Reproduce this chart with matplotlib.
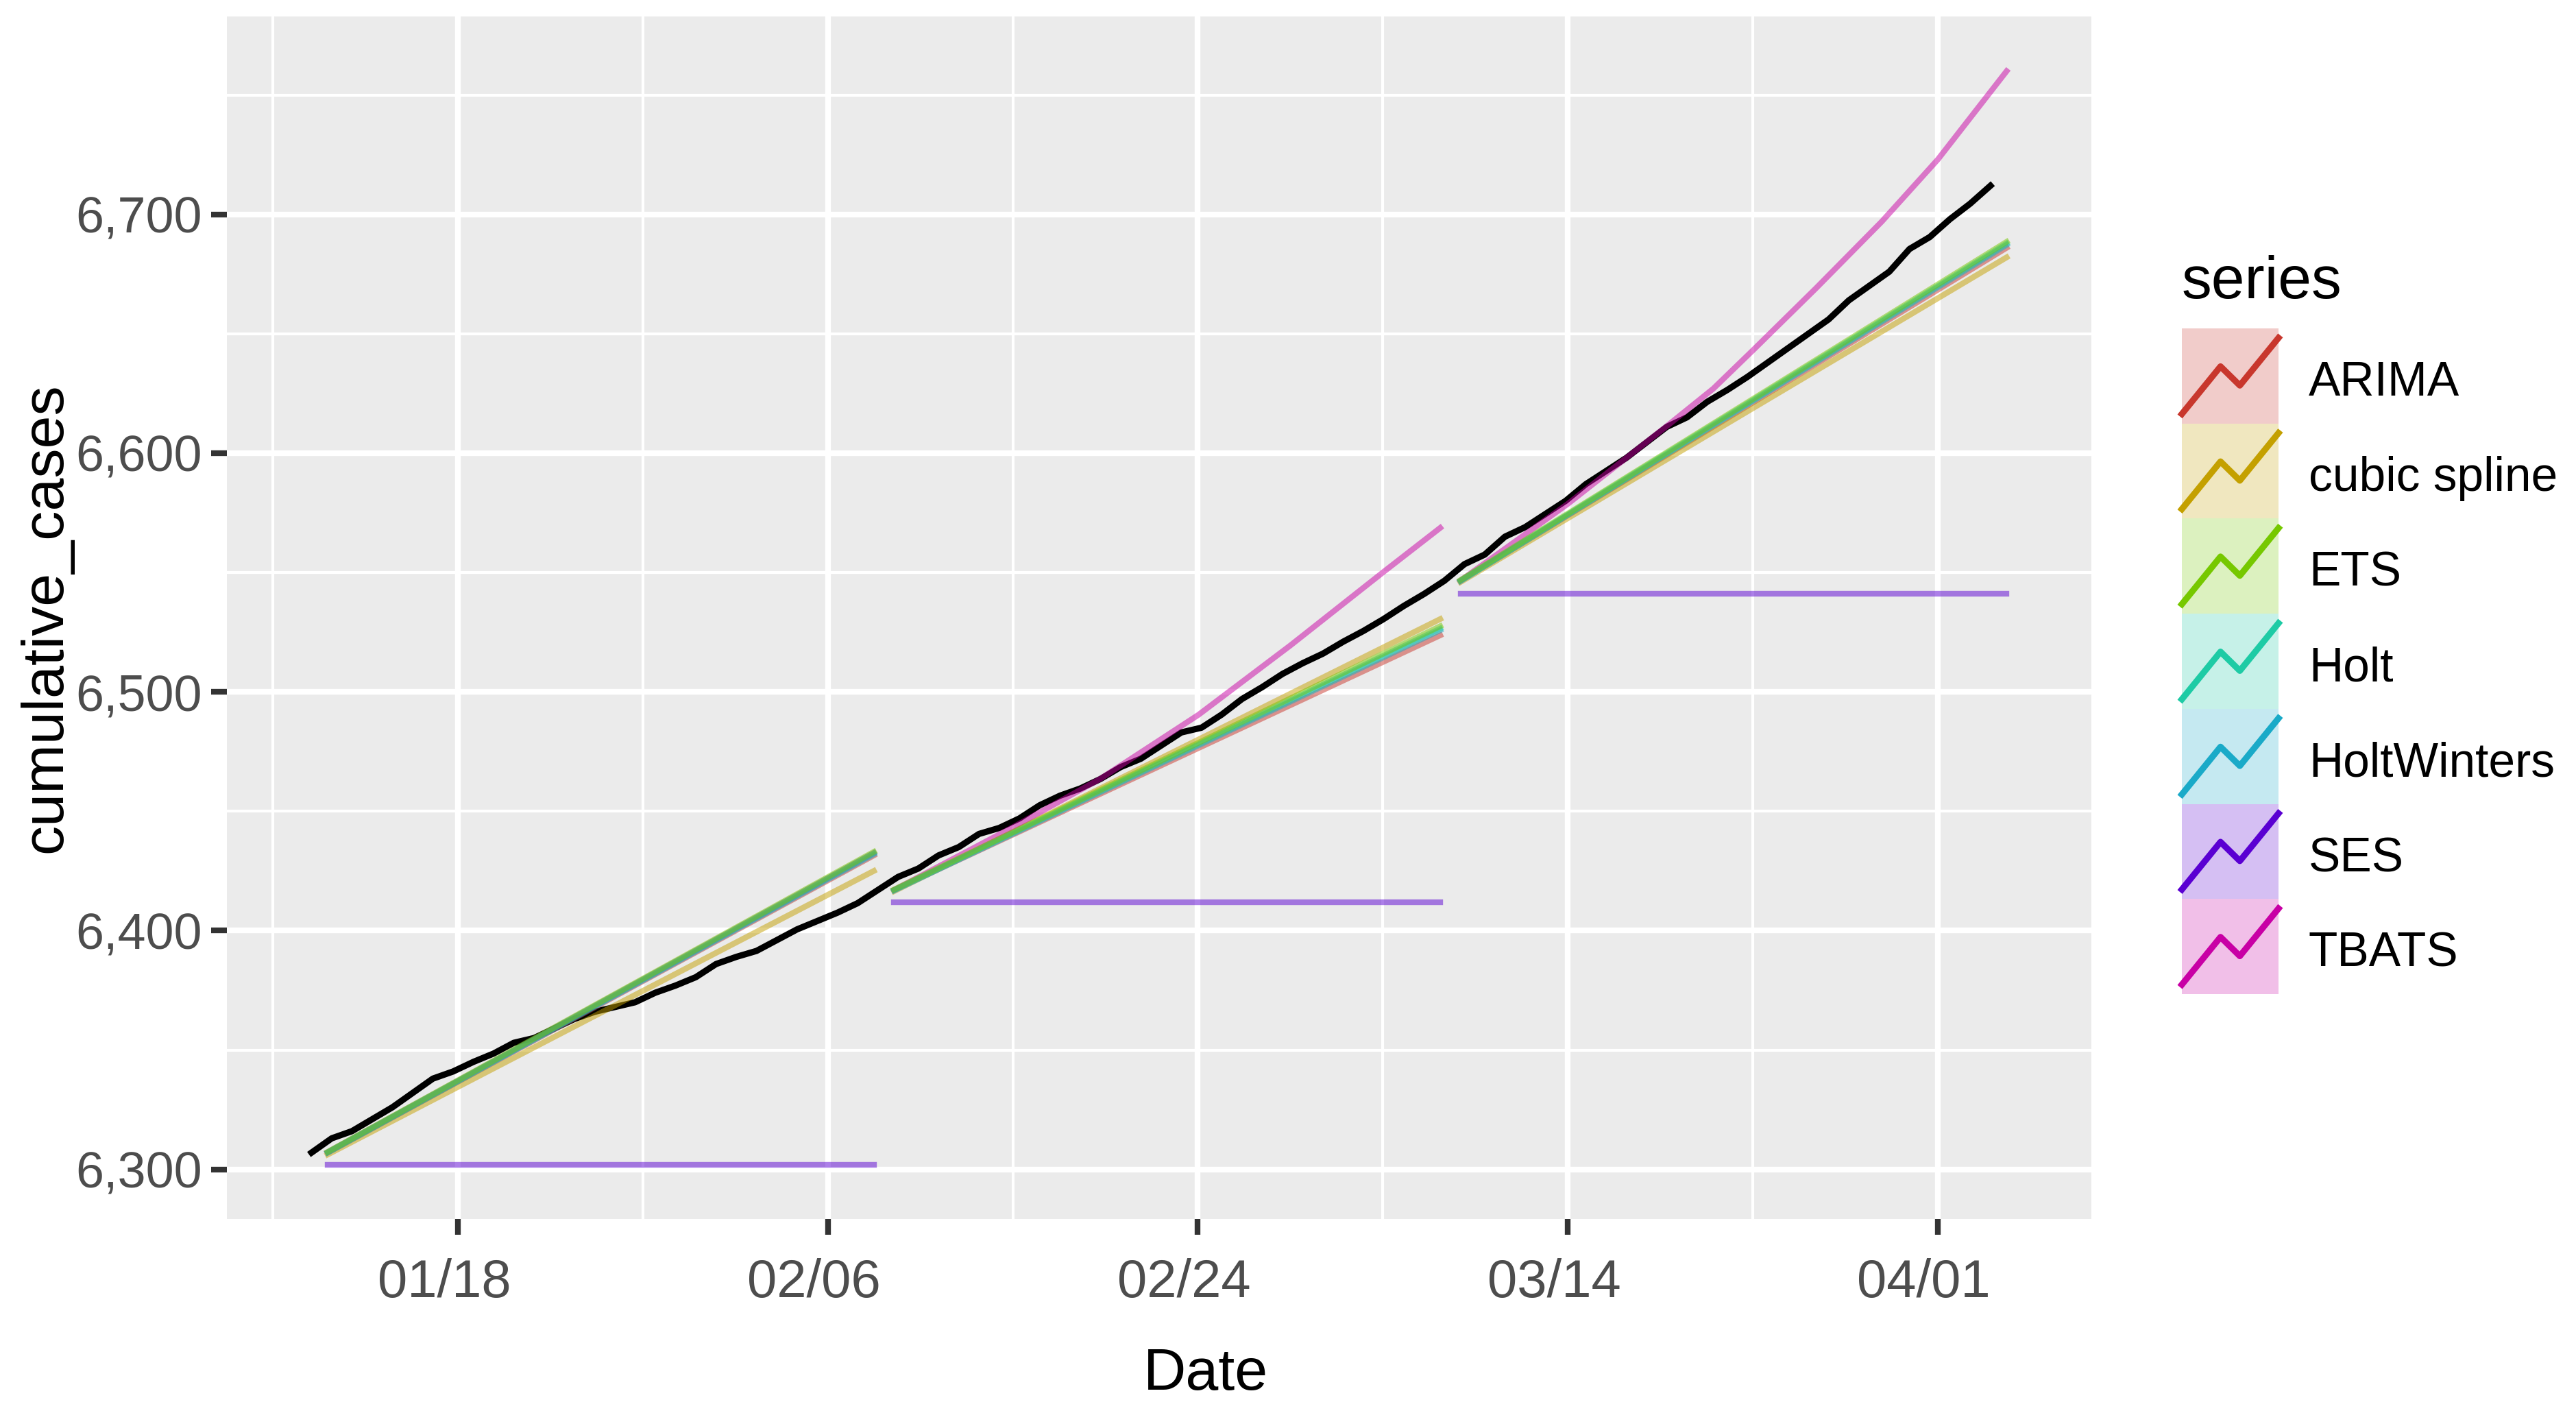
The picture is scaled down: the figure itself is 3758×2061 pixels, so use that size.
import numpy as np
import matplotlib
matplotlib.use("Agg")
import matplotlib.pyplot as plt
from matplotlib.patches import Rectangle
from matplotlib.transforms import ScaledTranslation

plt.rcParams['font.family'] = ['Liberation Sans', 'DejaVu Sans']

# observed cumulative cases, one value per day (day 0 = first observation)
actual = [6307, 6313, 6316, 6321, 6326, 6332, 6338, 6341, 6345, 6348.5,
          6353, 6355, 6359, 6363, 6366, 6368, 6370, 6374, 6377, 6380.5,
          6386, 6389, 6391.5, 6396, 6400.5, 6404, 6407.5, 6411.5, 6417, 6422.5,
          6426, 6431.5, 6435, 6440.5, 6443, 6447, 6452.5, 6456.5, 6459.5, 6463.5,
          6468.5, 6472, 6477.5, 6483, 6485, 6490.5, 6497, 6502, 6507.5, 6512,
          6516, 6521, 6525.5, 6530.5, 6536, 6541, 6546.5, 6553.5, 6557.5, 6565,
          6569, 6574.5, 6580, 6587, 6592.5, 6598, 6604.5, 6611, 6615, 6621.5,
          6626.5, 6632, 6638, 6644, 6650, 6656, 6664, 6670, 6676, 6685.5,
          6690.5, 6698, 6704.5, 6712]

# three forecast windows (day positions of first and last forecast)
window_start = [0.8, 28.8, 56.8]
window_end = [27.8, 55.8, 83.8]

# forecast values at window start / end for the linear models
arima = [[6307.0, 6431.5], [6417.0, 6523.7], [6546.5, 6686.0]]
cubic_spline = [[6306.2, 6425.0], [6416.5, 6530.5], [6546.0, 6682.0]]
ets = [[6307.3, 6433.0], [6417.2, 6527.5], [6546.8, 6688.5]]
holt = [[6307.2, 6432.5], [6417.0, 6526.5], [6546.6, 6687.8]]
holtwinters = [[6307.0, 6432.0], [6416.8, 6525.8], [6546.4, 6687.2]]
ses = [[6302.0, 6302.0], [6412.0, 6412.0], [6541.2, 6541.2]]

# TBATS bends upward, so keep more points
tbats_days = [[0.8, 27.8],
              [28.8, 34.7, 39.0, 43.85, 48.4, 52.96, 55.8],
              [56.8, 62.1, 67.0, 69.3, 71.25, 74.37, 77.63, 80.4, 83.8]]
tbats = [[6307.2, 6432.5],
         [6417.0, 6443.4, 6463.6, 6490.4, 6519.5, 6550.0, 6568.7],
         [6546.6, 6578.7, 6611.3, 6627.0, 6643.0, 6669.0, 6697.0, 6723.0, 6760.0]]

series = ['ARIMA', 'cubic spline', 'ETS', 'Holt', 'HoltWinters', 'SES', 'TBATS']
colors = ['#C8372D', '#C4A000', '#76C800', '#1ECBA5', '#1AAAC8', '#5A00D2', '#C800A5']

tick_days = [7.24, 25.53, 43.81, 62.10, 80.39]
tick_labels = ['01/18', '02/06', '02/24', '03/14', '04/01']
y_ticks = [6300, 6400, 6500, 6600, 6700]

W, H = 3758, 2061
fig = plt.figure(figsize=(W / 300, H / 300), dpi=300)
ax = fig.add_axes([330.8 / W, 1 - 1778.4 / H, (3051 - 330.8) / W, (1778.4 - 24) / H])
ax.set_facecolor('#EBEBEB')
for s in ax.spines.values():
    s.set_visible(False)

days = np.arange(len(actual))
ax.plot(days, actual, color='black', lw=2.2, zorder=2)

linear = {'ARIMA': arima, 'cubic spline': cubic_spline, 'ETS': ets,
          'Holt': holt, 'HoltWinters': holtwinters, 'SES': ses}
col = dict(zip(series, colors))
draw_order = ['ARIMA', 'cubic spline', 'TBATS', 'SES', 'HoltWinters', 'Holt', 'ETS']
for name in draw_order:
    for w in range(3):
        if name == 'TBATS':
            xs, ys = tbats_days[w], tbats[w]
        else:
            xs, ys = [window_start[w], window_end[w]], linear[name][w]
        ax.plot(xs, ys, color=col[name], alpha=0.5, lw=2.0, zorder=3)

# ggplot-style 5% expansion
all_y = list(actual) + [v for m in linear.values() for p in m for v in p] + [v for p in tbats for v in p]
x0, x1 = 0, max(window_end)
y0, y1 = min(all_y), max(all_y)
xlim = (x0 - 0.05 * (x1 - x0), x1 + 0.05 * (x1 - x0))
ylim = (y0 - 0.05 * (y1 - y0), y1 + 0.05 * (y1 - y0))

step = tick_days[1] - tick_days[0]
minor_x = [t for t in [tick_days[0] - step / 2] + [t + step / 2 for t in tick_days]
           if xlim[0] < t < xlim[1]]
ax.set_xticks(tick_days)
ax.set_xticklabels(tick_labels)
ax.set_xticks(minor_x, minor=True)
ax.set_yticks(y_ticks)
ax.set_yticklabels([f'{v:,}' for v in y_ticks])
ax.set_yticks([v + 50 for v in y_ticks if ylim[0] < v + 50 < ylim[1]], minor=True)
ax.set_xlim(xlim)
ax.set_ylim(ylim)
ax.grid(which='major', color='white', lw=2.0)
ax.grid(which='minor', color='white', lw=1.0)
ax.set_axisbelow(True)
ax.tick_params(which='minor', length=0)
ax.tick_params(axis='both', which='major', length=5.5, width=2.0, color='#333333', labelcolor='#4D4D4D')
ax.tick_params(axis='x', labelsize=18.7, pad=8)
ax.tick_params(axis='y', labelsize=17.7, pad=3.1)
off = ScaledTranslation(-20 / 300, 0, fig.dpi_scale_trans)
for lab in ax.get_xticklabels():
    lab.set_transform(lab.get_transform() + off)

fig.text(1759 / W, 1 - 2026.7 / H, 'Date', ha='center', va='baseline', fontsize=20.7)
fig.text(67 / W, 1 - 901 / H, 'cumulative_cases', ha='center', va='center', rotation=90, fontsize=20.7)

# legend
lg = fig.add_axes([3183 / W, 1 - 1450 / H, 141 / W, 971 / H])
lg.set_xlim(0, 1)
lg.set_ylim(len(series), 0)
lg.axis('off')
for i, (name, c) in enumerate(zip(series, colors)):
    lg.add_patch(Rectangle((0, i), 1, 1, facecolor=c, alpha=0.25, lw=0))
    lg.plot([0, 0.4, 0.6, 1], [i + 0.9, i + 0.4, i + 0.6, i + 0.1], color=c, lw=2.2, clip_on=False)
    lg.text(1.312, i + 0.58, name, va='center', ha='left', fontsize=16.7, color='black')
lg.text(0, -0.48, 'series', va='center', ha='left', fontsize=21, color='black')

fig.savefig('out.png', dpi=300)
